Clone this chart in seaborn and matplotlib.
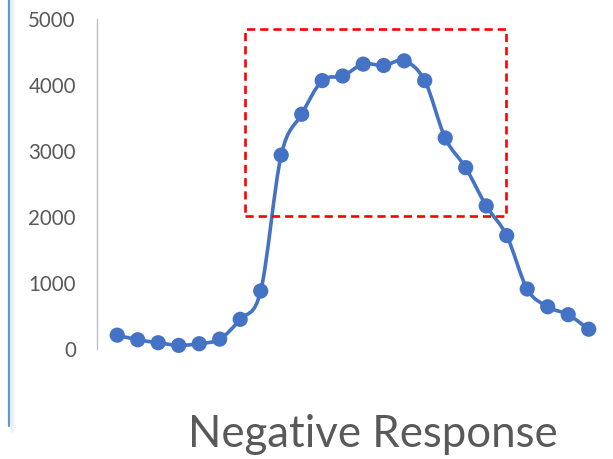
import numpy as np
import pandas as pd
import matplotlib
matplotlib.use("Agg")
import matplotlib.pyplot as plt
from matplotlib.path import Path
from matplotlib.patches import PathPatch, Rectangle
from matplotlib.lines import Line2D
import seaborn as sns

# Series data
periods = list(range(1, 25))
responses = [210, 140, 95, 55, 80, 150, 450, 880, 2940, 3560, 4070, 4140,
             4320, 4300, 4370, 4070, 3200, 2750, 2170, 1720, 910, 640, 520, 300]
y_ticks = [0, 1000, 2000, 3000, 4000, 5000]
title_text = "Negative Response"

df = pd.DataFrame({"period": periods, "response": responses})

sns.set_theme(style="white")
plt.rcParams["font.family"] = ["Lato", "DejaVu Sans"]

LINE_BLUE = "#4472C4"
TEXT_GREY = "#595959"

fig = plt.figure(figsize=(6.13, 4.59), dpi=100)
ax = fig.add_axes([96.7 / 613, 1 - 349 / 459, 1 - 96.7 / 613, (349 - 19.3) / 459])

# Smoothed connecting curve (cubic Bezier segments through each point)
px = df["period"].to_numpy(dtype=float)
py = df["response"].to_numpy(dtype=float)
pts = np.column_stack([px, py])
n = len(pts)
verts = [tuple(pts[0])]
codes = [Path.MOVETO]
for i in range(n - 1):
    prev = pts[i - 1] if i > 0 else pts[i]
    nxt = pts[i + 2] if i + 2 < n else pts[i + 1]
    c1 = pts[i] + (pts[i + 1] - prev) / 6.0
    c2 = pts[i + 1] - (nxt - pts[i]) / 6.0
    verts += [tuple(c1), tuple(c2), tuple(pts[i + 1])]
    codes += [Path.CURVE4] * 3
ax.add_patch(PathPatch(Path(verts, codes), facecolor="none", edgecolor=LINE_BLUE,
                       lw=2.6, zorder=3, clip_on=False, capstyle="round"))

sns.scatterplot(data=df, x="period", y="response", ax=ax, color=LINE_BLUE,
                s=120, edgecolor="none", zorder=4, clip_on=False, legend=False)

# Highlight box around the peak region
box_x0, box_x1 = 7.23, 19.96
box_y0, box_y1 = 2020, 4860
ax.add_patch(Rectangle((box_x0, box_y0), box_x1 - box_x0, box_y1 - box_y0,
                       fill=False, edgecolor="#FF0000", lw=1.9,
                       linestyle=(0, (3.1, 1.9)), zorder=5, clip_on=False))

ax.set_xlim(0, 25.185)
ax.set_ylim(0, 5000)
ax.set_yticks(y_ticks)
ax.set_yticklabels([str(t) for t in y_ticks])
ax.set_xticks([])
ax.set_xlabel("")
ax.set_ylabel("")
ax.tick_params(axis="y", length=0, pad=15, labelsize=14.8, labelcolor=TEXT_GREY)
for side in ["top", "right", "bottom"]:
    ax.spines[side].set_visible(False)
ax.spines["left"].set_color("#BFBFBF")
ax.spines["left"].set_linewidth(1.0)
ax.patch.set_alpha(0)

# Left accent bar with soft shadow
for k, a in enumerate([0.10, 0.08, 0.06, 0.04, 0.02]):
    fig.add_artist(Line2D([(11 + k) / 613] * 2, [1 - 432 / 459, 1.0],
                          color="#808080", alpha=a, lw=1.2))
fig.add_artist(Line2D([9 / 613] * 2, [1 - 426 / 459, 1.0],
                      color="#5B9BD5", lw=1.6))

fig.text(373 / 613, 1 - 447 / 459, title_text, ha="center", va="baseline",
         fontsize=31.5, color=TEXT_GREY, fontweight="normal")

fig.savefig("out.png", dpi=100)
